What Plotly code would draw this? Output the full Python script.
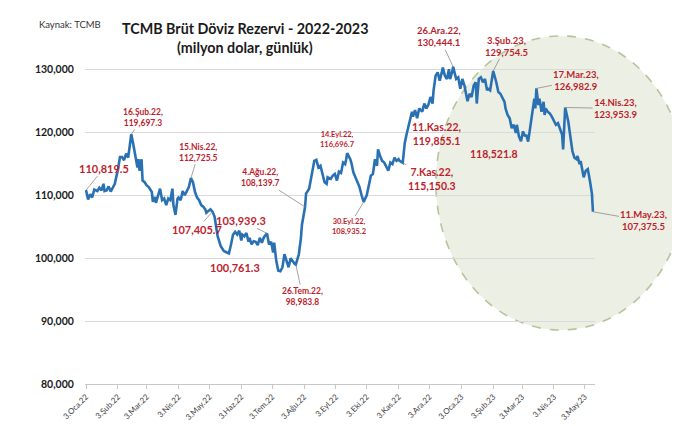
import plotly.graph_objects as go

# ---- data (million USD, daily) ----
dates_2022 = [
    "2022-01-03","2022-01-05","2022-01-07","2022-01-09","2022-01-11","2022-01-14","2022-01-16","2022-01-18","2022-01-20","2022-01-21","2022-01-23","2022-01-25","2022-01-27","2022-01-29","2022-01-31",
    "2022-02-01","2022-02-03","2022-02-05","2022-02-07","2022-02-09","2022-02-11","2022-02-13","2022-02-14","2022-02-16","2022-02-18","2022-02-20","2022-02-22","2022-02-23","2022-02-24","2022-02-26","2022-02-27",
    "2022-03-01","2022-03-03","2022-03-05","2022-03-08","2022-03-09","2022-03-11","2022-03-12","2022-03-14","2022-03-16","2022-03-18","2022-03-20","2022-03-22","2022-03-24","2022-03-26","2022-03-28","2022-03-29","2022-03-31",
    "2022-04-02","2022-04-03","2022-04-05","2022-04-07","2022-04-09","2022-04-11","2022-04-13","2022-04-15","2022-04-17","2022-04-19","2022-04-21","2022-04-23","2022-04-25","2022-04-27","2022-04-29","2022-04-30",
    "2022-05-02","2022-05-04","2022-05-06","2022-05-08","2022-05-10","2022-05-11","2022-05-14","2022-05-16","2022-05-17","2022-05-20","2022-05-22","2022-05-24","2022-05-26","2022-05-28","2022-05-30",
    "2022-06-01","2022-06-03","2022-06-04","2022-06-06","2022-06-08","2022-06-10","2022-06-11","2022-06-13","2022-06-15","2022-06-17","2022-06-19","2022-06-21","2022-06-23","2022-06-25","2022-06-27","2022-06-28","2022-06-30",
    "2022-07-02","2022-07-04","2022-07-05","2022-07-07","2022-07-09","2022-07-11","2022-07-13","2022-07-15","2022-07-17","2022-07-19","2022-07-21","2022-07-23","2022-07-25","2022-07-26","2022-07-29","2022-07-31",
    "2022-08-01","2022-08-04","2022-08-05","2022-08-08","2022-08-10","2022-08-13","2022-08-15","2022-08-17","2022-08-19","2022-08-21","2022-08-23","2022-08-25","2022-08-26","2022-08-29","2022-08-31",
    "2022-09-02","2022-09-04","2022-09-06","2022-09-08","2022-09-10","2022-09-12","2022-09-13","2022-09-14","2022-09-17","2022-09-18","2022-09-20","2022-09-22","2022-09-24","2022-09-26","2022-09-28","2022-09-30",
    "2022-10-03","2022-10-05","2022-10-07","2022-10-09","2022-10-11","2022-10-13","2022-10-14","2022-10-16","2022-10-18","2022-10-20","2022-10-22","2022-10-24","2022-10-26","2022-10-28","2022-10-30",
    "2022-11-01","2022-11-03","2022-11-04","2022-11-07","2022-11-09","2022-11-11","2022-11-13","2022-11-16","2022-11-17","2022-11-19","2022-11-21","2022-11-23","2022-11-26","2022-11-28","2022-11-30",
    "2022-12-02","2022-12-04","2022-12-06","2022-12-07","2022-12-09","2022-12-11","2022-12-13","2022-12-15","2022-12-16","2022-12-18","2022-12-20","2022-12-22","2022-12-23","2022-12-25","2022-12-26","2022-12-29","2022-12-31",
]
values_2022 = [
    110819.5,109328,110156,109641,110891,110672,111203,110781,111828,110672,110781,111406,110578,111297,111828,
    112609,114016,116094,116094,115578,116609,115984,117141,119697.3,118078,115984,114422,115734,113906,115734,112344,
    112078,111562,111297,110516,108953,109734,108797,110000,111047,109219,109484,108437,109484,109219,111047,108437,106875,
    109484,109641,109219,110672,110000,110781,111297,112725.5,112078,110516,109641,109219,108437,108172,107766,107234,
    107547,107766,107405.7,106609,104531,103484,101922,101406,101141,100900,100761.3,102187,103750,104172,103750,
    104375,102812,103750,103484,104016,102609,103234,102187,102703,102609,102078,103234,102453,103328,103750,103939.3,102187,
    102609,100891,102453,99578,98016,97922,98547,100625,99578,98547,100000,99484,99062,98983.8,100625,103234,
    105312,108139.7,110266,111047,113125,115469,115625,114422,114687,113391,112078,111828,112859,112609,113125,
    113391,112344,113750,113547,115203,114953,115734,116696.7,115734,115203,113641,112859,112078,111297,110000,108935.2,
    110000,111562,113125,113391,115734,114687,117297,116250,115469,115203,114422,113906,115203,114953,115984,
    115469,115734,115469,115150.3,118328,119855.1,121203,123281,122500,123547,122234,123797,123281,124578,123797,
    124422,125625,124578,126672,129016,129531,128234,129531,130313,129016,128484,130047,128484,129531,130444.1,128484,128750,
]
dates_2023 = [
    "2023-01-02","2023-01-04","2023-01-06","2023-01-08","2023-01-09","2023-01-11","2023-01-13","2023-01-15","2023-01-17","2023-01-18","2023-01-20","2023-01-22","2023-01-24","2023-01-26","2023-01-28","2023-01-29","2023-01-31",
    "2023-02-01","2023-02-03","2023-02-06","2023-02-08","2023-02-10","2023-02-12","2023-02-14","2023-02-15","2023-02-17","2023-02-19","2023-02-21","2023-02-23","2023-02-25","2023-02-26","2023-02-28",
    "2023-03-02","2023-03-04","2023-03-06","2023-03-07","2023-03-09","2023-03-11","2023-03-13","2023-03-15","2023-03-16","2023-03-17","2023-03-19","2023-03-20","2023-03-22","2023-03-24","2023-03-25","2023-03-26","2023-03-28","2023-03-30",
    "2023-04-01","2023-04-03","2023-04-05","2023-04-07","2023-04-09","2023-04-11","2023-04-12","2023-04-13","2023-04-14","2023-04-17","2023-04-19","2023-04-21","2023-04-23","2023-04-25","2023-04-26","2023-04-28","2023-04-29","2023-04-30",
    "2023-05-02","2023-05-04","2023-05-06","2023-05-08","2023-05-10","2023-05-11",
]
values_2023 = [
    126922,128484,127453,125625,124953,126141,125625,127453,127969,124578,128484,128750,127969,128484,126672,126922,126672,
    127703,129754.5,127969,126406,126141,125359,124844,123797,122766,122234,120672,121203,119891,121203,119375,
    118594,120156,119375,119641,118521.8,120937,123281,125359,123797,126982.9,124328,125359,123281,124844,122766,123797,123281,123016,
    122500,121719,121203,121453,120672,119641,117297,120672,123953.9,121719,119641,117031,115984,115734,116250,114953,115469,114422,
    112859,113906,114172,112344,110266,107375.5,
]

tick_dates = ["2022-01-03","2022-02-03","2022-03-03","2022-04-03","2022-05-03","2022-06-03",
              "2022-07-03","2022-08-03","2022-09-03","2022-10-03","2022-11-03","2022-12-03",
              "2023-01-03","2023-02-03","2023-03-03","2023-04-03","2023-05-03"]
tick_labels = ["3.Oca.22","3.Şub.22","3.Mar.22","3.Nis.22","3.May.22","3.Haz.22",
               "3.Tem.22","3.Ağu.22","3.Eyl.22","3.Eki.22","3.Kas.22","3.Ara.22",
               "3.Oca.23","3.Şub.23","3.Mar.23","3.Nis.23","3.May.23"]
y_ticks = [80000, 90000, 100000, 110000, 120000, 130000]

# annotated points
ann_dates = ["2022-01-03","2022-02-16","2022-04-15","2022-05-06","2022-05-22","2022-06-28",
             "2022-08-04","2022-07-26","2022-09-14","2022-09-30","2022-11-11","2022-11-07",
             "2022-12-26","2023-02-03","2023-03-09","2023-03-17","2023-04-14","2023-05-11"]
ann_values = [110819.5,119697.3,112725.5,107405.7,100761.3,103939.3,
              108139.7,98983.8,116696.7,108935.2,119855.1,115150.3,
              130444.1,129754.5,118521.8,126982.9,123953.9,107375.5]
ann_texts = ["110,819.5","16.Şub.22,<br>119,697.3","15.Nis.22,<br>112,725.5","107,405.7","100,761.3","103,939.3",
             "4.Ağu.22,<br>108,139.7","26.Tem.22,<br>98,983.8","14.Eyl.22,<br>116,696.7","30.Eyl.22,<br>108,935.2",
             "11.Kas.22,<br>119,855.1","7.Kas.22,<br>115,150.3","26.Ara.22,<br>130,444.1","3.Şub.23,<br>129,754.5",
             "118,521.8","17.Mar.23,<br>126,982.9","14.Nis.23,<br>123,953.9","11.May.23,<br>107,375.5"]
# label placement (pixel offsets), font size, leader visible
ann_ax = [18, 12, 8, -16, 6, -26, -45, 7, -10, -15, 30, 29, -14, 13, -34, 40, 51, 51]
ann_ay = [-22, -17, -26, 18, 14, -13, -29, 32, -14, 25, 1, 16, -30, -25, 12, -8, 1, 9]
ann_fs = [11, 8.5, 8.5, 11, 11, 11, 8.5, 8.5, 7.5, 7.5, 10.5, 10.5, 9.5, 9.5, 10.5, 9.5, 9.5, 9.5]
ann_leader = [True, True, True, True, False, True, True, True, False, True, False, True, True, True, False, True, True, True]

RED = "#BE1E2D"
FONT = "Lato"

fig = go.Figure()
fig.add_trace(go.Scatter(
    x=dates_2022 + dates_2023, y=values_2022 + values_2023,
    mode="lines", line=dict(color="#2A71B4", width=2.6), showlegend=False, hoverinfo="skip"))

# highlight ellipse
fig.add_shape(type="circle", xref="paper", yref="paper",
              x0=0.688, x1=1.178, y0=0.156, y1=1.006,
              fillcolor="rgba(196,206,170,0.33)",
              line=dict(color="#B8C49C", width=1.6, dash="dash"), layer="below")

for d, v, t, ax, ay, fs, ld in zip(ann_dates, ann_values, ann_texts, ann_ax, ann_ay, ann_fs, ann_leader):
    fig.add_annotation(x=d, y=v, text="<b>" + t + "</b>", showarrow=True,
                       ax=ax, ay=ay, arrowhead=0, arrowwidth=0.8,
                       arrowcolor="#8C8C8C" if ld else "rgba(0,0,0,0)",
                       font=dict(family=FONT, size=fs, color=RED), align="center",
                       standoff=0, startstandoff=0)

fig.add_annotation(xref="paper", yref="paper", x=0.314, y=1.028, text="<b>TCMB Brüt Döviz Rezervi - 2022-2023</b>",
                   showarrow=False, font=dict(family=FONT, size=14.3, color="#1a1a1a"), xanchor="center", yanchor="middle")
fig.add_annotation(xref="paper", yref="paper", x=0.314, y=0.972, text="<b>(milyon dolar, günlük)</b>",
                   showarrow=False, font=dict(family=FONT, size=14.3, color="#1a1a1a"), xanchor="center", yanchor="middle")
fig.add_annotation(xref="paper", yref="paper", x=-0.029, y=1.040, text="Kaynak: TCMB",
                   showarrow=False, font=dict(family=FONT, size=9.5, color="#333333"), xanchor="center", yanchor="middle")

fig.update_layout(
    width=680, height=426,
    margin=dict(l=77, r=93, t=30, b=44),
    paper_bgcolor="white", plot_bgcolor="white",
    font=dict(family=FONT),
    xaxis=dict(type="date", range=["2022-01-02", "2023-05-13"],
               tickvals=tick_dates, ticktext=tick_labels, tickangle=-45,
               tickfont=dict(family=FONT, size=8, color="#404040"),
               showgrid=False, showline=True, linecolor="#C8C8C8", linewidth=1,
               ticks="outside", ticklen=4, tickcolor="#C8C8C8", zeroline=False),
    yaxis=dict(range=[80000, 135000], tickvals=y_ticks, tickformat=",d",
               tickfont=dict(family=FONT, size=10.5, color="#1a1a1a", weight="bold"),
               showgrid=True, gridcolor="#DADADA", gridwidth=1, showline=False,
               ticks="outside", ticklen=8, tickcolor="rgba(0,0,0,0)", zeroline=False),
)

fig.write_html("out.html")
